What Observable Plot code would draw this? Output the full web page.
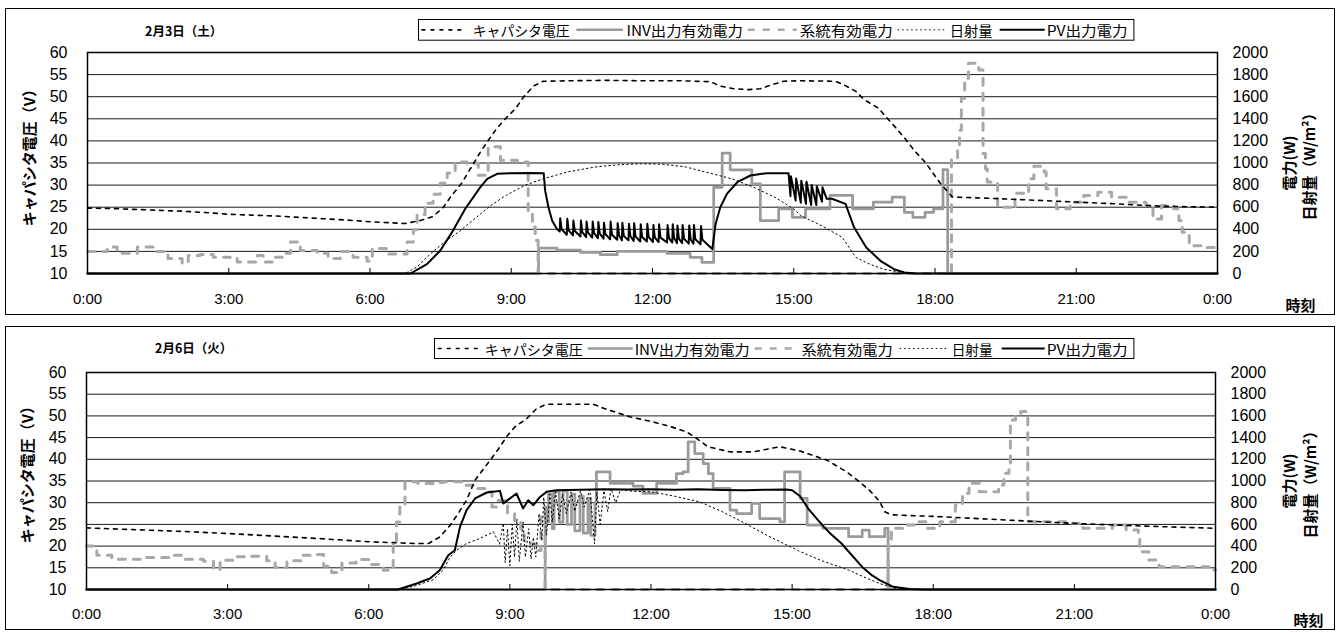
<!DOCTYPE html>
<html><head><meta charset="utf-8">
<script src="https://cdn.jsdelivr.net/npm/d3@7"></script>
<script src="https://cdn.jsdelivr.net/npm/@observablehq/plot@0.6"></script>
<style>
body{margin:0;background:#fff;}
#root{position:relative;width:1341px;height:633px;background:#fff;overflow:hidden}
.panel{position:absolute;left:5px;width:1328px;border:1px solid #000;background:#fff}
.header{position:relative}
.title{position:absolute;font-family:"Noto Sans CJK JP",sans-serif;font-weight:bold;font-size:12.5px;line-height:13px;white-space:nowrap;color:#000}
.legend{position:absolute;display:block}
.panel svg.chart{display:block}
</style></head>
<body><div id="root"></div>
<script>
// ---------- text ----------
const panelTitles = ["2月3日（土）", "2月6日（火）"];
const seriesNames = ["キャパシタ電圧", "INV出力有効電力", "系統有効電力", "日射量", "PV出力電力"];
const leftAxisTitle = "キャパシタ電圧（V）";
const rightAxisTitle1 = "電力(W)";
const rightAxisTitle2 = "日射量（W/m²）";
const xAxisTitle = "時刻";
const hourTicks = [0, 3, 6, 9, 12, 15, 18, 21, 24];
const powerTicks = [0, 200, 400, 600, 800, 1000, 1200, 1400, 1600, 1800, 2000];

// ---------- 2月3日 data : [hour, value] ----------
const day1Voltage = [[0,24.8],[0.5,24.7],[1,24.5],[1.5,24.3],[2,24.1],[2.5,23.8],[3,23.4],[3.5,23.2],[4,23.0],[4.5,22.7],[5,22.4],[5.5,22.1],[6,21.7],[6.4,21.5],[6.75,21.3],[7.07,22.0],[7.34,22.9],[7.56,25.0],[7.71,27.3],[7.95,30.5],[8.15,34.0],[8.34,37.4],[8.51,40.1],[8.69,42.8],[8.9,45.3],[9.09,47.3],[9.26,49.9],[9.47,52.4],[9.68,53.5],[10.2,53.6],[11,53.7],[11.8,53.6],[12.6,53.6],[13.23,53.4],[13.44,52.4],[13.72,51.8],[14.04,51.6],[14.29,51.8],[14.5,52.6],[14.79,53.5],[15.15,53.6],[15.88,53.5],[16.06,52.7],[16.32,51.2],[16.5,49.3],[16.8,47.4],[16.98,45.2],[17.2,42.6],[17.38,40.3],[17.57,37.7],[17.79,35.2],[17.94,33.0],[18.12,30.3],[18.37,27.3],[19.18,27.0],[20.28,26.5],[21.75,25.8],[22.85,25.2],[24,25.0]];
const day1Inv = [[0,0],[9.58,230],[9.97,212],[10.47,191],[10.89,170],[11.25,200],[12.31,182],[12.8,145],[13.05,100],[13.3,780],[13.48,1089],[13.65,938],[14.11,811],[14.29,478],[14.68,584],[14.97,508],[15.25,584],[15.77,706],[16.25,585],[16.69,645],[17.09,691],[17.35,554],[17.53,509],[17.79,554],[17.97,585],[18.17,939],[18.27,0],[24,0]];
const day1Grid = [[0,200],[0.42,239],[0.63,184],[1.06,239],[1.4,200],[1.71,136],[2.01,93],[2.14,163],[2.39,172],[2.67,148],[3.03,136],[3.18,103],[3.46,103],[3.61,163],[3.73,103],[3.95,148],[4.16,184],[4.31,284],[4.52,209],[4.88,184],[5.11,136],[5.37,200],[5.64,148],[5.94,112],[6.05,227],[6.37,176],[6.79,284],[6.92,396],[7.0,535],[7.17,635],[7.34,717],[7.49,816],[7.64,910],[7.81,1010],[8.06,998],[8.3,889],[8.51,1146],[8.77,1025],[9.13,1010],[9.36,556],[9.45,420],[9.51,300],[9.57,0],[18.35,1039],[18.48,1146],[18.52,1297],[18.56,1585],[18.63,1767],[18.71,1903],[18.93,1842],[19.02,1085],[19.07,948],[19.11,827],[19.33,600],[19.62,585],[19.7,727],[19.95,721],[19.99,857],[20.1,970],[20.32,918],[20.36,767],[20.58,585],[20.87,645],[21.16,706],[21.46,736],[21.75,691],[22.12,645],[22.48,615],[22.63,494],[22.81,615],[23.07,585],[23.18,479],[23.25,373],[23.4,251],[23.66,236],[24,236]];
const day1Irradiance = [[0,0],[6.75,0],[7.0,60],[7.28,176],[7.6,290],[7.92,388],[8.25,505],[8.56,614],[8.9,710],[9.3,800],[9.68,857],[10.2,920],[10.8,965],[11.3,985],[11.74,993],[12.2,990],[12.7,965],[13.2,910],[13.7,855],[14.15,780],[14.6,690],[15.0,584],[15.15,524],[15.59,433],[16.03,327],[16.32,145],[16.61,85],[16.91,39],[17.27,9],[17.5,0],[24,0]];
const day1Pv = [[0,0],[6.86,0],[7.21,85],[7.49,206],[7.74,372],[8.02,584],[8.34,780],[8.49,857],[8.7,902],[9.0,908],[9.4,910],[9.69,908],[9.72,750],[9.79,599],[9.87,478],[9.97,403],
  [10.03,380],[10.04,500],[10.07,400],[10.18,350],[10.19,495],[10.22,390],[10.31,345],[10.32,480],[10.35,385],[10.47,335],[10.48,480],[10.51,375],
  [10.59,330],[10.6,470],[10.63,370],[10.72,325],[10.73,470],[10.76,365],[10.84,320],[10.85,465],[10.88,360],[10.96,315],[10.97,460],[11.0,355],
  [11.1,310],[11.11,470],[11.14,350],[11.25,305],[11.26,455],[11.29,345],[11.35,300],[11.36,460],[11.39,340],[11.49,300],[11.5,450],[11.53,340],
  [11.6,295],[11.61,455],[11.64,335],[11.74,290],[11.75,445],[11.78,330],[11.88,290],[11.89,450],[11.92,330],[12.01,285],[12.02,440],[12.05,325],
  [12.13,285],[12.14,445],[12.17,325],[12.31,280],[12.32,440],[12.35,320],[12.42,280],[12.43,445],[12.46,320],[12.52,275],[12.53,435],[12.56,315],
  [12.63,275],[12.64,440],[12.67,315],[12.77,270],[12.78,435],[12.81,310],[12.87,270],[12.88,440],[12.91,310],[13.02,265],[13.03,430],[13.06,305],
  [13.27,221],[13.34,448],[13.44,599],[13.58,720],[13.8,826],[14.08,887],[14.43,908],[14.89,908],
  [14.93,700],[14.94,880],[15.04,660],[15.05,860],[15.15,640],[15.16,840],[15.26,630],[15.27,830],[15.37,620],[15.38,800],[15.48,620],[15.49,790],[15.6,650],[15.61,780],
  [15.7,676],[15.81,676],[16.1,630],[16.28,418],[16.54,236],[16.84,115],[17.13,39],[17.35,9],[17.6,0],[24,0]];

// ---------- 2月6日 data : [hour, value] ----------
const day2Voltage = [[0,24.2],[1,23.8],[2,23.4],[3,22.9],[4,22.3],[5,21.7],[6,21.0],[6.98,20.6],[7.27,20.6],[7.51,22.1],[7.73,24.8],[7.9,27.5],[8.08,30.6],[8.26,35.2],[8.42,37.5],[8.61,40.2],[8.79,42.9],[8.93,45.2],[9.11,47.5],[9.36,49.4],[9.57,51.7],[9.78,52.7],[10.77,52.7],[11.06,51.5],[11.55,49.8],[12.05,48.6],[12.4,47.6],[12.76,46.3],[12.97,44.8],[13.21,42.9],[13.68,41.7],[14.17,41.7],[14.74,42.9],[15.17,41.9],[15.74,39.8],[16.16,37.1],[16.34,35.6],[16.64,32.9],[16.86,30.3],[16.97,27.9],[17.11,27.2],[18.1,26.8],[19.57,26.0],[21.04,25.2],[22.5,24.6],[24,24.1]];
const day2Inv = [[0,0],[9.75,760],[9.8,620],[9.82,880],[9.9,560],[9.94,900],[10.05,620],[10.13,910],[10.22,600],[10.31,880],[10.38,540],[10.49,860],[10.56,520],[10.66,840],[10.72,500],[10.81,800],[10.84,1084],[11.13,977],[11.62,952],[11.83,885],[12.12,977],[12.54,1069],[12.68,1084],[12.79,1360],[12.93,1253],[13.11,1161],[13.22,1069],[13.32,931],[13.68,731],[13.82,700],[14.14,793],[14.31,654],[14.74,623],[14.84,1084],[15.17,841],[15.32,594],[15.65,564],[16.2,487],[16.49,548],[16.64,487],[16.97,564],[17.04,0],[24,0]];
const day2Grid = [[0,400],[0.22,316],[0.54,279],[1.2,295],[1.78,316],[2.1,279],[2.49,261],[2.7,184],[2.84,270],[3.2,301],[3.51,307],[3.83,264],[4.01,203],[4.26,264],[4.58,316],[4.86,322],[5.04,215],[5.21,157],[5.43,245],[5.73,276],[6.03,230],[6.31,178],[6.49,208],[6.52,408],[6.59,623],[6.66,777],[6.77,992],[7.05,977],[7.37,986],[7.58,992],[7.98,961],[8.3,930],[8.51,900],[8.62,760],[8.75,820],[8.95,700],[9.1,620],[9.23,560],[9.3,450],[9.44,420],[9.58,360],[9.66,669],[9.75,0],[17.04,425],[17.11,564],[17.37,594],[17.66,625],[17.88,564],[18.14,625],[18.47,779],[18.62,887],[18.76,979],[18.98,902],[19.39,964],[19.5,1072],[19.61,1103],[19.64,1563],[19.75,1624],[19.86,1640],[20.01,625],[20.96,610],[21.18,564],[21.81,594],[22.1,548],[22.36,487],[22.39,348],[22.58,271],[22.8,209],[23.86,179],[24,179]];
const day2Irradiance = [[0,0],[6.66,0],[7.0,35],[7.37,90],[7.58,178],[7.73,300],[7.87,362],[8.08,424],[8.36,470],[8.65,531],[8.78,420],[8.86,610],[8.9,250],[8.95,560],[9.0,220],[9.05,600],[9.1,300],[9.15,650],[9.2,260],[9.28,620],[9.33,300],[9.4,560],[9.45,280],[9.5,480],[9.55,300],[9.62,700],[9.68,450],[9.72,850],[9.78,500],[9.85,880],[9.9,620],[9.97,900],[10.05,650],[10.12,880],[10.2,700],[10.3,900],[10.38,720],[10.5,910],[10.58,760],[10.7,920],[10.8,420],[10.85,900],[10.92,600],[11.0,910],[11.08,720],[11.15,930],[11.25,800],[11.35,920],[11.62,905],[12.01,900],[12.5,860],[13.04,807],[13.5,720],[14.0,610],[14.46,500],[15.17,350],[15.6,270],[16.2,180],[16.5,120],[16.86,55],[17.2,10],[17.4,0],[24,0]];
const day2Pv = [[0,0],[6.62,0],[7.02,55],[7.3,101],[7.51,178],[7.69,316],[7.83,362],[7.94,577],[8.08,731],[8.26,839],[8.51,894],[8.79,909],[8.86,793],[9.14,885],[9.28,747],[9.39,823],[9.5,777],[9.64,853],[9.78,900],[9.99,915],[10.5,920],[11.0,925],[11.5,922],[12.0,925],[12.5,920],[13.0,925],[13.5,918],[14.0,915],[14.5,920],[14.88,922],[15.0,915],[15.17,860],[15.35,740],[15.55,640],[15.8,520],[16.05,424],[16.3,300],[16.49,208],[16.7,130],[16.86,86],[17.15,25],[17.5,5],[17.8,0],[24,0]];

// ---------- styles ----------
const lineStyles = [
  {stroke: "#000", strokeWidth: 1.6, strokeDasharray: "4,5"},          // voltage
  {stroke: "#9a9a9a", strokeWidth: 2.75},                               // INV
  {stroke: "#a8a8a8", strokeWidth: 3, strokeDasharray: "7,8"},          // grid
  {stroke: "#000", strokeWidth: 1, strokeDasharray: "1.5,3"},           // irradiance
  {stroke: "#000", strokeWidth: 2}                                      // PV
];
const JP = "'Noto Sans CJK JP', 'Noto Sans', sans-serif";
const NUM = "'Liberation Sans', Arial, sans-serif";

const panels = [
  {top: 8, contentH: 305, headerH: 36, svgH: 269, ml: 81, mr: 117, mt: 7, mb: 41,
   title: panelTitles[0], titleLeft: 139, titleTop: 15,
   legend: {left: 412.3, top: 10, w: 716.4, h: 21.7,
     items: [[3.4,48.4,54.7,151.7],[158.4,205,208.4,325],[329.7,378.7,381.7,474.7],[479.7,526.7,531.7,574.7],[581.7,626.7,628.7,709.7]]},
   leftDx: -57, leftDy: -9, r1Dx: 73, r2Dx: 93, xtDx: 83, xtDy: 33, xPad: 25,
   data: [day1Voltage, day1Inv, day1Grid, day1Irradiance, day1Pv]},
  {top: 326, contentH: 302, headerH: 37, svgH: 265, ml: 80, mr: 119, mt: 8, mb: 40,
   title: panelTitles[1], titleLeft: 149, titleTop: 14,
   legend: {left: 428.3, top: 11.3, w: 700.4, h: 21,
     items: [[3.7,47.7,50.7,148.7],[153.7,198.7,200.7,315.7],[320.7,365.7,367.4,458.7],[465.7,512.7,517.7,558.7],[567.7,610.7,612.7,693.7]]},
   leftDx: -58, leftDy: -10, r1Dx: 75, r2Dx: 96, xtDx: 93, xtDy: 32, xPad: 24,
   data: [day2Voltage, day2Inv, day2Grid, day2Irradiance, day2Pv]}
];

function buildLegend(L) {
  const ns = "http://www.w3.org/2000/svg";
  const svg = document.createElementNS(ns, "svg");
  svg.setAttribute("class", "legend");
  svg.setAttribute("width", L.w); svg.setAttribute("height", L.h);
  svg.style.left = L.left + "px"; svg.style.top = L.top + "px";
  const rect = document.createElementNS(ns, "rect");
  rect.setAttribute("x", 0.5); rect.setAttribute("y", 0.5);
  rect.setAttribute("width", L.w - 1); rect.setAttribute("height", L.h - 1);
  rect.setAttribute("fill", "#fff"); rect.setAttribute("stroke", "#000");
  svg.appendChild(rect);
  L.items.forEach((it, i) => {
    const st = lineStyles[i];
    const ln = document.createElementNS(ns, "line");
    ln.setAttribute("x1", it[0]); ln.setAttribute("x2", it[1]);
    ln.setAttribute("y1", L.h / 2); ln.setAttribute("y2", L.h / 2);
    ln.setAttribute("stroke", st.stroke);
    ln.setAttribute("stroke-width", Math.min(st.strokeWidth, 2.5));
    if (st.strokeDasharray) ln.setAttribute("stroke-dasharray", st.strokeDasharray);
    svg.appendChild(ln);
    const tx = document.createElementNS(ns, "text");
    tx.setAttribute("x", it[2]); tx.setAttribute("y", L.h / 2 + 0.5);
    tx.setAttribute("dominant-baseline", "central");
    tx.setAttribute("font-family", JP); tx.setAttribute("font-size", "14");
    tx.setAttribute("textLength", it[3] - it[2]);
    tx.setAttribute("lengthAdjust", "spacingAndGlyphs");
    tx.textContent = seriesNames[i];
    svg.appendChild(tx);
  });
  return svg;
}

const root = document.getElementById("root");
const toW = v => (v - 10) * 40;   // secondary-axis mapping: 10–60 V ↔ 0–2000 W

panels.forEach(P => {
  const div = document.createElement("div");
  div.className = "panel";
  div.style.top = P.top + "px";
  div.style.height = P.contentH + "px";
  const header = document.createElement("div");
  header.className = "header";
  header.style.height = P.headerH + "px";
  const t = document.createElement("div");
  t.className = "title"; t.textContent = P.title;
  t.style.left = P.titleLeft + "px"; t.style.top = P.titleTop + "px";
  header.appendChild(t);
  header.appendChild(buildLegend(P.legend));
  div.appendChild(header);

  const [volt, inv, grid, irr, pv] = P.data;
  const chart = Plot.plot({
    width: 1328, height: P.svgH,
    marginLeft: P.ml, marginRight: P.mr, marginTop: P.mt, marginBottom: P.mb,
    style: {fontFamily: NUM, fontSize: "15px", color: "#000", background: "#fff", overflow: "visible"},
    x: {domain: [0, 24], label: null},
    y: {domain: [0, 2000], label: null},
    marks: [
      Plot.gridY({ticks: powerTicks, stroke: "#000", strokeOpacity: 0.9, strokeWidth: 1}),
      Plot.line(inv, {x: d => d[0], y: d => d[1], curve: "step-after", ...lineStyles[1]}),
      Plot.line(grid, {x: d => d[0], y: d => d[1], curve: "step-after", ...lineStyles[2]}),
      Plot.line(irr, {x: d => d[0], y: d => d[1], ...lineStyles[3]}),
      Plot.line(volt, {x: d => d[0], y: d => toW(d[1]), ...lineStyles[0]}),
      Plot.line(pv, {x: d => d[0], y: d => d[1], ...lineStyles[4]}),
      Plot.frame({stroke: "#000", strokeWidth: 1.5}),
      Plot.axisX({ticks: hourTicks, tickSize: -5, tickPadding: P.xPad, fontSize: 15, label: null,
        tickFormat: h => `${h % 24}:00`}),
      Plot.axisY({anchor: "left", ticks: powerTicks, tickSize: 0, tickPadding: 20, fontSize: 16, label: null,
        tickFormat: w => String(w / 40 + 10)}),
      Plot.axisY({anchor: "right", ticks: powerTicks, tickSize: 0, tickPadding: 15, fontSize: 16, label: null,
        tickFormat: w => String(w)}),
      Plot.text([leftAxisTitle], {text: d => d, frameAnchor: "left", dx: P.leftDx, dy: P.leftDy, rotate: -90,
        textAnchor: "middle", lineAnchor: "middle", fontFamily: JP, fontWeight: "bold", fontSize: 15}),
      Plot.text([rightAxisTitle1], {text: d => d, frameAnchor: "right", dx: P.r1Dx, rotate: -90,
        textAnchor: "middle", lineAnchor: "middle", fontFamily: JP, fontWeight: "bold", fontSize: 15}),
      Plot.text([rightAxisTitle2], {text: d => d, frameAnchor: "right", dx: P.r2Dx, rotate: -90,
        textAnchor: "middle", lineAnchor: "middle", fontFamily: JP, fontWeight: "bold", fontSize: 15}),
      Plot.text([xAxisTitle], {text: d => d, frameAnchor: "bottom-right", dx: P.xtDx, dy: P.xtDy,
        textAnchor: "middle", lineAnchor: "middle", fontFamily: JP, fontWeight: "bold", fontSize: 15})
    ]
  });
  chart.classList.add("chart");
  div.appendChild(chart);
  root.appendChild(div);
});
</script>
</body></html>
